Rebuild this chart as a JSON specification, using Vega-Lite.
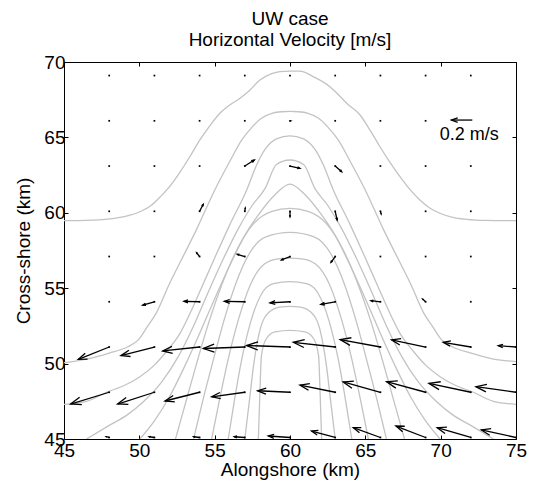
{
  "$schema": "https://vega.github.io/schema/vega-lite/v6.json",
  "width": 452,
  "height": 377,
  "autosize": {"type": "none"},
  "padding": {"left": 64, "top": 62, "right": 31, "bottom": 46},
  "background": "white",
  "config": {
    "font": "Liberation Sans",
    "view": {"stroke": "black", "strokeWidth": 1},
    "axis": {"grid": false, "domain": false, "tickColor": "black", "labelColor": "black", "titleColor": "black", "labelFont": "Liberation Sans", "titleFont": "Liberation Sans", "labelFontSize": 19, "titleFontSize": 19, "titleFontWeight": "normal", "tickSize": -4, "tickWidth": 1}
  },
  "title": {"text": ["UW case", "Horizontal Velocity [m/s]"], "anchor": "middle", "fontSize": 19, "fontWeight": "normal", "font": "Liberation Sans", "color": "black", "lineHeight": 21, "offset": 3},
  "datasets": {
    "contours": [
      {"c":1,"x":45,"y":59.48},{"c":1,"x":46.5,"y":59.5},{"c":1,"x":48.05,"y":59.6},{"c":1,"x":49,"y":59.75},{"c":1,"x":50.04,"y":60.07},{"c":1,"x":50.8,"y":60.5},{"c":1,"x":51.4,"y":61.07},{"c":1,"x":52.1,"y":61.85},{"c":1,"x":52.7,"y":62.7},{"c":1,"x":53.4,"y":63.8},{"c":1,"x":54.02,"y":64.83},{"c":1,"x":54.7,"y":65.8},{"c":1,"x":55.35,"y":66.6},{"c":1,"x":56,"y":67.15},{"c":1,"x":56.68,"y":67.6},{"c":1,"x":57.3,"y":68.1},{"c":1,"x":58,"y":68.8},{"c":1,"x":58.7,"y":69.2},{"c":1,"x":59.33,"y":69.36},{"c":1,"x":60,"y":69.4},{"c":1,"x":60.66,"y":69.4},{"c":1,"x":61.6,"y":69.0},{"c":1,"x":62.65,"y":68.36},{"c":1,"x":63.2,"y":67.85},{"c":1,"x":63.76,"y":67.26},{"c":1,"x":64.64,"y":66.5},{"c":1,"x":65.3,"y":65.5},{"c":1,"x":65.97,"y":64.38},{"c":1,"x":66.6,"y":63.4},{"c":1,"x":67.3,"y":62.4},{"c":1,"x":68,"y":61.5},{"c":1,"x":68.62,"y":60.85},{"c":1,"x":69.3,"y":60.3},{"c":1,"x":69.95,"y":59.97},{"c":1,"x":70.8,"y":59.7},{"c":1,"x":71.72,"y":59.57},{"c":1,"x":73,"y":59.5},{"c":1,"x":75,"y":59.48},

      {"c":2,"x":45,"y":50.06},{"c":2,"x":46.5,"y":50.3},{"c":2,"x":48,"y":50.7},{"c":2,"x":49.2,"y":51.1},{"c":2,"x":49.93,"y":51.57},{"c":2,"x":50.5,"y":52.4},{"c":2,"x":51.15,"y":53.4},{"c":2,"x":52,"y":55.3},{"c":2,"x":52.7,"y":56.7},{"c":2,"x":53.8,"y":58.9},{"c":2,"x":55,"y":61.5},{"c":2,"x":56,"y":63.4},{"c":2,"x":56.8,"y":64.83},{"c":2,"x":57.5,"y":65.7},{"c":2,"x":58.1,"y":66.27},{"c":2,"x":58.8,"y":66.6},{"c":2,"x":59.45,"y":66.7},{"c":2,"x":60,"y":66.72},{"c":2,"x":60.55,"y":66.7},{"c":2,"x":61.2,"y":66.6},{"c":2,"x":61.9,"y":66.27},{"c":2,"x":62.5,"y":65.7},{"c":2,"x":63.2,"y":64.83},{"c":2,"x":64,"y":63.4},{"c":2,"x":65,"y":61.5},{"c":2,"x":66.2,"y":58.9},{"c":2,"x":67.3,"y":56.7},{"c":2,"x":68,"y":55.3},{"c":2,"x":68.85,"y":53.4},{"c":2,"x":69.5,"y":52.4},{"c":2,"x":70.07,"y":51.57},{"c":2,"x":70.8,"y":51.1},{"c":2,"x":72,"y":50.7},{"c":2,"x":73.5,"y":50.3},{"c":2,"x":75,"y":50.13},

      {"c":3,"x":45,"y":47.3},{"c":3,"x":46.5,"y":47.5},{"c":3,"x":47.83,"y":48.1},{"c":3,"x":49,"y":48.55},{"c":3,"x":50.04,"y":49.13},{"c":3,"x":51,"y":49.9},{"c":3,"x":51.8,"y":50.8},{"c":3,"x":52.7,"y":52},{"c":3,"x":53.4,"y":53.4},{"c":3,"x":54.2,"y":55.2},{"c":3,"x":55,"y":57},{"c":3,"x":56,"y":59.2},{"c":3,"x":57.12,"y":61.5},{"c":3,"x":57.8,"y":63.2},{"c":3,"x":58.34,"y":64.2},{"c":3,"x":59.1,"y":64.9},{"c":3,"x":60,"y":65.1},{"c":3,"x":60.9,"y":64.9},{"c":3,"x":61.66,"y":64.2},{"c":3,"x":62.2,"y":63.2},{"c":3,"x":62.88,"y":61.5},{"c":3,"x":64,"y":59.2},{"c":3,"x":65,"y":57},{"c":3,"x":65.8,"y":55.2},{"c":3,"x":66.6,"y":53.4},{"c":3,"x":67.3,"y":52},{"c":3,"x":68.2,"y":50.8},{"c":3,"x":69,"y":49.9},{"c":3,"x":69.96,"y":49.13},{"c":3,"x":71,"y":48.55},{"c":3,"x":72.17,"y":48.1},{"c":3,"x":73.5,"y":47.5},{"c":3,"x":75,"y":47.3},

      {"c":4,"x":46.5,"y":45},{"c":4,"x":48,"y":45.9},{"c":4,"x":49.2,"y":46.6},{"c":4,"x":50.3,"y":47.5},{"c":4,"x":51.5,"y":48.8},{"c":4,"x":52.6,"y":50.5},{"c":4,"x":53.6,"y":52.5},{"c":4,"x":54.6,"y":54.8},{"c":4,"x":55.6,"y":57},{"c":4,"x":56.6,"y":59},{"c":4,"x":57.5,"y":60.5},{"c":4,"x":58.34,"y":61.6},{"c":4,"x":59.1,"y":63.2},{"c":4,"x":60,"y":63.5},{"c":4,"x":60.9,"y":63.2},{"c":4,"x":61.66,"y":61.6},{"c":4,"x":62.5,"y":60.5},{"c":4,"x":63.4,"y":59},{"c":4,"x":64.4,"y":57},{"c":4,"x":65.4,"y":54.8},{"c":4,"x":66.4,"y":52.5},{"c":4,"x":67.4,"y":50.5},{"c":4,"x":68.5,"y":48.8},{"c":4,"x":69.7,"y":47.5},{"c":4,"x":70.8,"y":46.6},{"c":4,"x":72,"y":45.9},{"c":4,"x":73.5,"y":45},

      {"c":5,"x":50.04,"y":45},{"c":5,"x":51,"y":46.2},{"c":5,"x":52,"y":47.8},{"c":5,"x":53,"y":49.8},{"c":5,"x":54,"y":52},{"c":5,"x":55,"y":54.3},{"c":5,"x":56,"y":56.5},{"c":5,"x":57,"y":58.5},{"c":5,"x":58,"y":60},{"c":5,"x":59,"y":61.2},{"c":5,"x":60,"y":61.9},{"c":5,"x":61,"y":61.2},{"c":5,"x":62,"y":60},{"c":5,"x":63,"y":58.5},{"c":5,"x":64,"y":56.5},{"c":5,"x":65,"y":54.3},{"c":5,"x":66,"y":52},{"c":5,"x":67,"y":49.8},{"c":5,"x":68,"y":47.8},{"c":5,"x":69,"y":46.2},{"c":5,"x":69.96,"y":45},

      {"c":6,"x":52.4,"y":45},{"c":6,"x":53.1,"y":47.5},{"c":6,"x":53.8,"y":50},{"c":6,"x":54.6,"y":52.7},{"c":6,"x":55.5,"y":55.3},{"c":6,"x":56.5,"y":57.6},{"c":6,"x":57.6,"y":59.3},{"c":6,"x":58.8,"y":60.1},{"c":6,"x":60,"y":60.3},{"c":6,"x":61.2,"y":60.1},{"c":6,"x":62.4,"y":59.3},{"c":6,"x":63.5,"y":57.6},{"c":6,"x":64.5,"y":55.3},{"c":6,"x":65.4,"y":52.7},{"c":6,"x":66.2,"y":50},{"c":6,"x":66.9,"y":47.5},{"c":6,"x":67.6,"y":45},

      {"c":7,"x":53.6,"y":45},{"c":7,"x":54.2,"y":47.5},{"c":7,"x":54.9,"y":50.2},{"c":7,"x":55.6,"y":52.8},{"c":7,"x":56.4,"y":55.3},{"c":7,"x":57.3,"y":57.3},{"c":7,"x":58.4,"y":58.4},{"c":7,"x":60,"y":58.7},{"c":7,"x":61.6,"y":58.4},{"c":7,"x":62.7,"y":57.3},{"c":7,"x":63.6,"y":55.3},{"c":7,"x":64.4,"y":52.8},{"c":7,"x":65.1,"y":50.2},{"c":7,"x":65.8,"y":47.5},{"c":7,"x":66.4,"y":45},

      {"c":8,"x":54.8,"y":45},{"c":8,"x":55.3,"y":47.5},{"c":8,"x":55.9,"y":50.3},{"c":8,"x":56.6,"y":53},{"c":8,"x":57.4,"y":55.3},{"c":8,"x":58.3,"y":56.6},{"c":8,"x":59.2,"y":56.95},{"c":8,"x":60,"y":57},{"c":8,"x":60.8,"y":56.95},{"c":8,"x":61.7,"y":56.6},{"c":8,"x":62.6,"y":55.3},{"c":8,"x":63.4,"y":53},{"c":8,"x":64.1,"y":50.3},{"c":8,"x":64.7,"y":47.5},{"c":8,"x":65.2,"y":45},

      {"c":9,"x":55.9,"y":45},{"c":9,"x":56.3,"y":47.5},{"c":9,"x":56.8,"y":50.3},{"c":9,"x":57.4,"y":52.8},{"c":9,"x":58.1,"y":54.6},{"c":9,"x":58.9,"y":55.3},{"c":9,"x":60,"y":55.43},{"c":9,"x":61.1,"y":55.3},{"c":9,"x":61.9,"y":54.6},{"c":9,"x":62.6,"y":52.8},{"c":9,"x":63.2,"y":50.3},{"c":9,"x":63.7,"y":47.5},{"c":9,"x":64.1,"y":45},

      {"c":10,"x":57,"y":45},{"c":10,"x":57.3,"y":47.5},{"c":10,"x":57.6,"y":50},{"c":10,"x":58,"y":52.2},{"c":10,"x":58.6,"y":53.4},{"c":10,"x":59.3,"y":53.75},{"c":10,"x":60,"y":53.8},{"c":10,"x":60.7,"y":53.75},{"c":10,"x":61.4,"y":53.4},{"c":10,"x":62,"y":52.2},{"c":10,"x":62.4,"y":50},{"c":10,"x":62.7,"y":47.5},{"c":10,"x":63,"y":45},

      {"c":11,"x":57.9,"y":45},{"c":11,"x":58,"y":48},{"c":11,"x":58.1,"y":50.5},{"c":11,"x":58.4,"y":51.6},{"c":11,"x":59,"y":52.1},{"c":11,"x":60,"y":52.2},{"c":11,"x":61,"y":52.1},{"c":11,"x":61.6,"y":51.6},{"c":11,"x":61.9,"y":50.5},{"c":11,"x":62,"y":48},{"c":11,"x":62.1,"y":45}
    ],
    "arrows": [
      {"x":48,"y":69.1,"xe":48,"ye":69.1},{"x":51,"y":69.1,"xe":51,"ye":69.1},{"x":54,"y":69.1,"xe":54,"ye":69.1},{"x":57,"y":69.1,"xe":57,"ye":69.1},{"x":60,"y":69.1,"xe":60,"ye":69.1},{"x":63,"y":69.1,"xe":63,"ye":69.1},{"x":66,"y":69.1,"xe":66,"ye":69.1},{"x":69,"y":69.1,"xe":69,"ye":69.1},{"x":72,"y":69.1,"xe":72,"ye":69.1},
      {"x":48,"y":66.1,"xe":48,"ye":66.1},{"x":51,"y":66.1,"xe":51,"ye":66.1},{"x":54,"y":66.1,"xe":54,"ye":66.1},{"x":57,"y":66.1,"xe":57,"ye":66.1},{"x":60,"y":66.1,"xe":60.05,"ye":66.1},{"x":63,"y":66.1,"xe":63,"ye":66.1},{"x":66,"y":66.1,"xe":66,"ye":66.1},{"x":69,"y":66.1,"xe":69,"ye":66.1},
      {"x":48,"y":63.1,"xe":48,"ye":63.1},{"x":51,"y":63.1,"xe":51,"ye":63.1},{"x":54,"y":63.1,"xe":54,"ye":63.1},{"x":57,"y":63.1,"xe":57.63,"ye":63.5},{"x":60,"y":63.1,"xe":60.66,"ye":62.95},{"x":63,"y":63.1,"xe":63.43,"ye":62.72},{"x":66,"y":63.1,"xe":66,"ye":63.1},{"x":69,"y":63.1,"xe":69,"ye":63.1},{"x":72,"y":63.1,"xe":72,"ye":63.1},
      {"x":48,"y":60.1,"xe":48,"ye":60.1},{"x":51,"y":60.1,"xe":51,"ye":60.1},{"x":54,"y":60.1,"xe":54.24,"ye":60.56},{"x":57,"y":60.1,"xe":57.03,"ye":60.32},{"x":60,"y":60.1,"xe":60,"ye":59.74},{"x":63,"y":60.1,"xe":63.13,"ye":59.52},{"x":66,"y":60.1,"xe":66.05,"ye":59.92},{"x":69,"y":60.1,"xe":69,"ye":60.1},{"x":72,"y":60.1,"xe":72,"ye":60.1},
      {"x":48,"y":57.1,"xe":48,"ye":57.1},{"x":51,"y":57.1,"xe":51,"ye":57.1},{"x":54,"y":57.1,"xe":53.8,"ye":57.35},{"x":57,"y":57.1,"xe":56.5,"ye":57.25},{"x":60,"y":57.1,"xe":59.43,"ye":56.87},{"x":63,"y":57.1,"xe":62.72,"ye":56.72},{"x":66,"y":57.1,"xe":66,"ye":57.1},{"x":69,"y":57.1,"xe":69,"ye":57.1},{"x":72,"y":57.1,"xe":72,"ye":57.1},
      {"x":48,"y":54.1,"xe":48,"ye":54.1},{"x":51,"y":54.1,"xe":50.22,"ye":53.87},{"x":54,"y":54.1,"xe":52.96,"ye":54.13},{"x":57,"y":54.1,"xe":55.64,"ye":54.13},{"x":60,"y":54.1,"xe":58.67,"ye":54.03},{"x":63,"y":54.1,"xe":62.05,"ye":53.93},{"x":66,"y":54.1,"xe":65.37,"ye":54.17},{"x":69,"y":54.1,"xe":68.8,"ye":54.28},{"x":72,"y":54.1,"xe":72,"ye":54.1},
      {"x":48,"y":51.1,"xe":45.95,"ye":50.28},{"x":51,"y":51.1,"xe":48.78,"ye":50.53},{"x":54,"y":51.1,"xe":51.55,"ye":50.84},{"x":57,"y":51.1,"xe":54.25,"ye":51.0},{"x":60,"y":51.1,"xe":57.12,"ye":51.2},{"x":63,"y":51.1,"xe":60.22,"ye":51.41},{"x":66,"y":51.1,"xe":63.33,"ye":51.59},{"x":69,"y":51.1,"xe":66.74,"ye":51.57},{"x":72,"y":51.1,"xe":70.17,"ye":51.41},{"x":75,"y":51.1,"xe":73.82,"ye":51.19},
      {"x":48,"y":48.1,"xe":45.44,"ye":47.32},{"x":51,"y":48.1,"xe":48.56,"ye":47.32},{"x":54,"y":48.1,"xe":51.7,"ye":47.52},{"x":57,"y":48.1,"xe":54.8,"ye":47.8},{"x":60,"y":48.1,"xe":57.85,"ye":48.2},{"x":63,"y":48.1,"xe":60.66,"ye":48.58},{"x":66,"y":48.1,"xe":63.53,"ye":48.78},{"x":69,"y":48.1,"xe":66.41,"ye":48.8},{"x":72,"y":48.1,"xe":69.22,"ye":48.69},{"x":75,"y":48.1,"xe":72.34,"ye":48.47},
      {"x":48,"y":45.1,"xe":47.8,"ye":45.15},{"x":51,"y":45.1,"xe":50.65,"ye":45.15},{"x":54,"y":45.1,"xe":53.6,"ye":45.15},{"x":57,"y":45.1,"xe":56.3,"ye":45.15},{"x":60,"y":45.1,"xe":58.56,"ye":45.2},{"x":63,"y":45.1,"xe":61.43,"ye":45.53},{"x":66,"y":45.1,"xe":64.2,"ye":45.75},{"x":69,"y":45.1,"xe":67.03,"ye":45.86},{"x":72,"y":45.1,"xe":69.77,"ye":45.75},{"x":75,"y":45.1,"xe":72.7,"ye":45.6}
    ],
    "key": [
      {"x":72.1,"y":66.15,"xe":70.71,"ye":66.15,"tx":71.9,"ty":65.15,"label":"0.2 m/s"}
    ]
  },
  "layer": [
    {
      "data": {"name": "contours"},
      "mark": {"type": "line", "color": "#c3c3c3", "strokeWidth": 1.3, "clip": true, "interpolate": "monotone"},
      "encoding": {
        "x": {"field": "x", "type": "quantitative", "scale": {"domain": [45, 75], "nice": false, "zero": false},
              "axis": {"orient": "bottom", "values": [45, 50, 55, 60, 65, 70, 75], "title": "Alongshore (km)", "labelPadding": 6, "titlePadding": 0, "labelFlush": false}},
        "y": {"field": "y", "type": "quantitative", "scale": {"domain": [45, 70], "nice": false, "zero": false},
              "axis": {"orient": "left", "values": [45, 50, 55, 60, 65, 70], "title": "Cross-shore (km)", "labelPadding": 3, "titlePadding": 10}},
        "detail": {"field": "c", "type": "nominal"}
      }
    },
    {
      "data": {"name": "arrows"},
      "mark": {"type": "rule", "color": "black", "strokeWidth": 1.3},
      "encoding": {
        "x": {"field": "x", "type": "quantitative", "axis": {"orient": "top", "values": [45, 50, 55, 60, 65, 70, 75], "labels": false, "title": null}},
        "y": {"field": "y", "type": "quantitative", "axis": {"orient": "right", "values": [45, 50, 55, 60, 65, 70], "labels": false, "title": null}},
        "x2": {"field": "xe"},
        "y2": {"field": "ye"}
      }
    },
    {
      "data": {"name": "arrows"},
      "transform": [
        {"calculate": "atan2(-(datum.ye - datum.y), datum.xe - datum.x) * 180 / PI", "as": "ang"},
        {"calculate": "sqrt(pow(datum.xe - datum.x, 2) + pow(datum.ye - datum.y, 2))", "as": "len"}
      ],
      "mark": {"type": "point", "shape": "M -1 -0.36 L 0 0 L -1 0.36", "filled": false, "stroke": "black", "strokeWidth": 1.3, "opacity": 1},
      "encoding": {
        "x": {"field": "xe", "type": "quantitative", "axis": null},
        "y": {"field": "ye", "type": "quantitative", "axis": null},
        "angle": {"field": "ang", "type": "quantitative", "scale": null},
        "size": {"field": "len", "type": "quantitative", "scale": {"type": "pow", "exponent": 2, "domain": [0, 3], "range": [0, 560]}, "legend": null}
      }
    },
    {
      "data": {"name": "arrows"},
      "mark": {"type": "square", "size": 3, "color": "black", "opacity": 1},
      "encoding": {
        "x": {"field": "x", "type": "quantitative", "axis": null},
        "y": {"field": "y", "type": "quantitative", "axis": null}
      }
    },
    {
      "data": {"name": "key"},
      "mark": {"type": "rule", "color": "black", "strokeWidth": 1.3},
      "encoding": {
        "x": {"field": "x", "type": "quantitative", "axis": null},
        "y": {"field": "y", "type": "quantitative", "axis": null},
        "x2": {"field": "xe"},
        "y2": {"field": "ye"}
      }
    },
    {
      "data": {"name": "key"},
      "mark": {"type": "point", "shape": "M -1 -0.36 L 0 0 L -1 0.36", "filled": false, "stroke": "black", "strokeWidth": 1.3, "size": 160, "angle": 180, "opacity": 1},
      "encoding": {
        "x": {"field": "xe", "type": "quantitative", "axis": null},
        "y": {"field": "ye", "type": "quantitative", "axis": null}
      }
    },
    {
      "data": {"name": "key"},
      "mark": {"type": "text", "fontSize": 18, "font": "Liberation Sans", "color": "black", "align": "center", "baseline": "middle"},
      "encoding": {
        "x": {"field": "tx", "type": "quantitative", "axis": null},
        "y": {"field": "ty", "type": "quantitative", "axis": null},
        "text": {"field": "label"}
      }
    }
  ],
  "resolve": {"axis": {"x": "independent", "y": "independent"}}
}
